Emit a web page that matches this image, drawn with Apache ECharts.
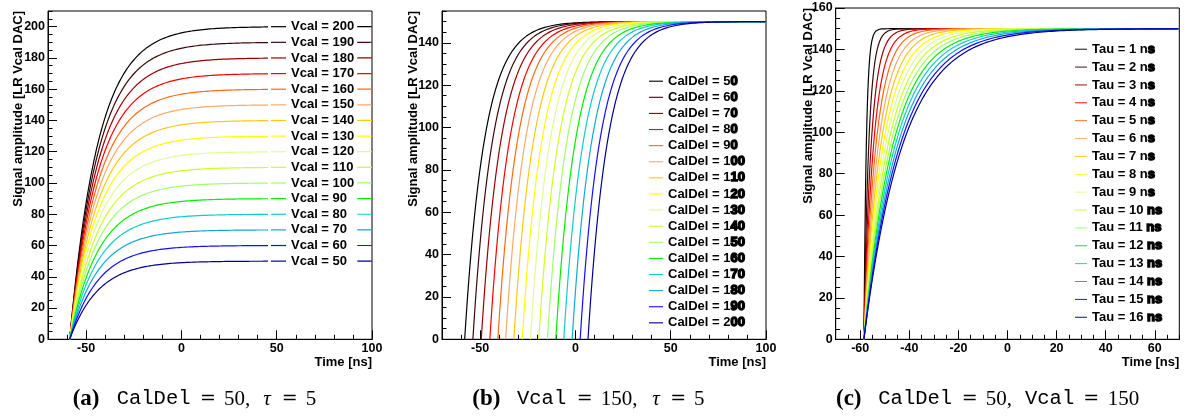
<!DOCTYPE html>
<html>
<head>
<meta charset="utf-8">
<script src="https://cdn.jsdelivr.net/npm/echarts@6/dist/echarts.min.js"></script>
<style>
  html, body { margin: 0; padding: 0; background: #fff; }
  #chart { width: 1188px; height: 417px; }
</style>
</head>
<body>
<div id="chart"></div>
<script>
// ---- Pulse families -------------------------------------------------------
// (a) amplitude scan, fixed CalDel
const vcalLevels = [200, 190, 180, 170, 160, 150, 140, 130, 120, 110, 100, 90, 80, 70, 60, 50];
const onsetA = -58.6;          // ns, start of the rising edge
const riseTimeA = 15;          // ns, time constant of the rising edge

// (b) CalDel scan, fixed Vcal
const calDelValues = [50, 60, 70, 80, 90, 100, 110, 120, 130, 140, 150, 160, 170, 180, 190, 200];
const calDelOnsets = [-58.1, -53.8, -49.4, -44.9, -40.7, -36.6, -32.3, -27.9,
                      -23.6, -19.2, -14.7, -10.3, -6.1, -1.7, 2.5, 6.6];
const amplitudeB = 150;
const riseTimeB = 10.5;

// (c) shaping-time scan, fixed CalDel and Vcal
const tauValues = [1, 2, 3, 4, 5, 6, 7, 8, 9, 10, 11, 12, 13, 14, 15, 16];
const onsetC = -58.5;
const amplitudeC = 150;

// one colour per curve, same order in all three panels
const curveColors = ['#000000', '#3e0808', '#9a0000', '#ff0000', '#ff6a10', '#ffa868',
                     '#ffc810', '#ffff00', '#dcff8c', '#ccff22', '#a0ff66', '#00ee00',
                     '#10cccc', '#10a8d8', '#1010ff', '#000095'];

// ---- Axis ticks -----------------------------------------------------------
const xLabelsAB = [-50, 0, 50, 100];
const yLabelsA = [0, 20, 40, 60, 80, 100, 120, 140, 160, 180, 200];
const yLabelsB = [0, 20, 40, 60, 80, 100, 120, 140];
const xLabelsC = [-60, -40, -20, 0, 20, 40, 60];
const yLabelsC = [0, 20, 40, 60, 80, 100, 120, 140, 160];

const font = '"Liberation Sans", Arial, Helvetica, sans-serif';

// exponential rise starting at t0, sampled up to tMax
function pulse(t0, amp, tau, tMax) {
  const pts = [];
  const step = 0.2;
  for (let t = t0; t <= tMax + 1e-9; t += step) {
    pts.push([t, amp * (1 - Math.exp(-(t - t0) / tau))]);
  }
  return pts;
}

function steps(min, max, step) {
  const out = [];
  for (let v = min; v <= max + 1e-9; v += step) out.push(Math.round(v * 1000) / 1000);
  return out;
}

function axisPair(dim, gi, min, max, labels, minorStep) {
  const pos = dim === 'x' ? 'bottom' : 'left';
  const labelStyle = { color: '#000', fontFamily: font, fontWeight: 'bold', fontSize: 12.5 };
  return [
    {
      type: 'value', gridIndex: gi, min, max, position: pos,
      axisLine: { show: true, onZero: false, lineStyle: { color: '#000', width: 1 } },
      axisTick: { show: true, inside: true, length: 9, customValues: labels, lineStyle: { color: '#000', width: 1 } },
      axisLabel: Object.assign({ show: true, customValues: labels, margin: 3 }, labelStyle),
      splitLine: { show: false }
    },
    {
      type: 'value', gridIndex: gi, min, max, position: pos,
      axisLine: { show: false, onZero: false },
      axisTick: { show: true, inside: true, length: 4.5, customValues: steps(min, max, minorStep), lineStyle: { color: '#000', width: 1 } },
      axisLabel: { show: false },
      splitLine: { show: false }
    }
  ];
}

const grids = [
  { left: 48, top: 11, width: 324, height: 328.3 },
  { left: 442, top: 11, width: 324, height: 328.3 },
  { left: 835.7, top: 8, width: 343.6, height: 331.3 }
].map(g => Object.assign({ show: true, borderColor: '#000', borderWidth: 1, backgroundColor: 'transparent' }, g));

const xAxes = [].concat(
  axisPair('x', 0, -70, 100, xLabelsAB, 10),
  axisPair('x', 1, -70, 100, xLabelsAB, 10),
  axisPair('x', 2, -70, 70, xLabelsC, 5)
);
const yAxes = [].concat(
  axisPair('y', 0, 0, 210, yLabelsA, 5),
  axisPair('y', 1, 0, 155, yLabelsB, 5),
  axisPair('y', 2, 0, 160, yLabelsC, 5)
);

function curve(name, gi, idx, data) {
  return {
    name, type: 'line', xAxisIndex: 2 * gi, yAxisIndex: 2 * gi,
    data, symbol: 'none', showSymbol: false, smooth: false, clip: true, silent: true,
    lineStyle: { color: curveColors[idx], width: 1.2 },
    itemStyle: { color: curveColors[idx] },
    emphasis: { disabled: true }
  };
}

const namesA = vcalLevels.map(v => 'Vcal = ' + v);
const namesB = calDelValues.map(v => 'CalDel = ' + v);
const namesC = tauValues.map(v => 'Tau = ' + v + ' ns');

const series = [];
vcalLevels.forEach((v, i) => series.push(curve(namesA[i], 0, i, pulse(onsetA, v, riseTimeA, 100))));
calDelValues.forEach((c, i) => series.push(curve(namesB[i], 1, i, pulse(calDelOnsets[i], amplitudeB, riseTimeB, 100))));
tauValues.forEach((tau, i) => series.push(curve(namesC[i], 2, i, pulse(onsetC, amplitudeC, tau, 70))));

// legend text: the overprinted tail of each label is drawn heavier
const heavy = { textBorderColor: '#000', textBorderWidth: 1.4, lineHeight: 14 };
const plain = { lineHeight: 14 };
function legend(names, extra, formatter) {
  return Object.assign({
    data: names, orient: 'vertical', selectedMode: false, itemHeight: 14,
    icon: 'path://M0,0H25V2H0Z',
    textStyle: { color: '#000', fontFamily: font, fontWeight: 'bold', fontSize: 13, lineHeight: 14,
                 rich: { n: plain, h: heavy } },
    formatter
  }, extra);
}

const legends = [
  legend(namesA, { left: 268, top: 13.7, itemWidth: 15, itemGap: 1.63, padding: [6, 3, 6, 3], backgroundColor: '#fff' },
         name => '{n|' + name + '}'),
  legend(namesB, { left: 649, top: 74, itemWidth: 14, itemGap: 1.71, padding: 0 },
         name => {
           const num = name.replace('CalDel = ', '');
           return '{n|CalDel = ' + num[0] + '}{h|' + num.slice(1) + '}';
         }),
  legend(namesC, { left: 1075, top: 42, itemWidth: 12, itemGap: 3.47, padding: 0 },
         name => {
           const num = name.replace('Tau = ', '').replace(' ns', '');
           return num.length === 1 ? '{n|Tau = ' + num + ' n}{h|s}' : '{n|Tau = ' + num + ' }{h|ns}';
         })
];

// ---- Axis titles and sub-captions --------------------------------------
const titleFont = 'bold 13px ' + font;
function yTitle(x, y) {
  return { type: 'text', x, y, rotation: Math.PI / 2,
           style: { text: 'Signal amplitude [LR Vcal DAC]', font: titleFont, fill: '#000', align: 'right', verticalAlign: 'middle' } };
}
function xTitle(x, y) {
  return { type: 'text', x, y,
           style: { text: 'Time [ns]', font: titleFont, fill: '#000', align: 'right', verticalAlign: 'middle' } };
}

const capRich = {
  b:  { fontFamily: '"Liberation Serif", "DejaVu Serif", serif', fontWeight: 'bold', fontSize: 23 },
  tt: { fontFamily: '"Liberation Mono", "DejaVu Sans Mono", monospace', fontSize: 20.5 },
  r:  { fontFamily: '"Liberation Serif", "DejaVu Serif", serif', fontSize: 21 },
  eq: { fontFamily: '"DejaVu Serif", serif', fontSize: 19 },
  i:  { fontFamily: '"Liberation Serif", "DejaVu Serif", serif', fontStyle: 'italic', fontSize: 21 }
};
// each piece: [style, text, box width]
function caption(x, pieces) {
  const rich = {};
  const parts = pieces.map((p, k) => {
    const key = 's' + k;
    rich[key] = Object.assign({}, capRich[p[0]], p[2] ? { width: p[2] } : {});
    return '{' + key + '|' + p[1] + '}';
  });
  return { type: 'text', x, y: 399,
           style: { text: parts.join(''), rich, fill: '#000', align: 'left', verticalAlign: 'middle' } };
}

const graphics = [
  yTitle(18, 11), yTitle(413, 11), yTitle(808.5, 8),
  xTitle(372, 362), xTitle(766, 362), xTitle(1179.3, 362),
  caption(72.7, [['b', '(a)', 44], ['tt', 'CalDel', 83.3], ['eq', '=', 24], ['r', '50,', 39.3],
                 ['i', 'τ', 18.4], ['eq', '=', 24], ['r', '5']]),
  caption(472.3, [['b', '(b)', 44.7], ['tt', 'Vcal', 59.7], ['eq', '=', 24], ['r', '150,', 51.6],
                  ['i', 'τ', 18], ['eq', '=', 23.7], ['r', '5']]),
  caption(836, [['b', '(c)', 42.3], ['tt', 'CalDel', 83.4], ['eq', '=', 24], ['r', '50,', 39.3],
                ['tt', 'Vcal', 58.3], ['eq', '=', 24.4], ['r', '150']])
];

const chart = echarts.init(document.getElementById('chart'), null, { renderer: 'canvas' });
chart.setOption({
  animation: false,
  backgroundColor: '#fff',
  grid: grids,
  xAxis: xAxes,
  yAxis: yAxes,
  legend: legends,
  series,
  graphic: graphics
});
</script>
</body>
</html>
